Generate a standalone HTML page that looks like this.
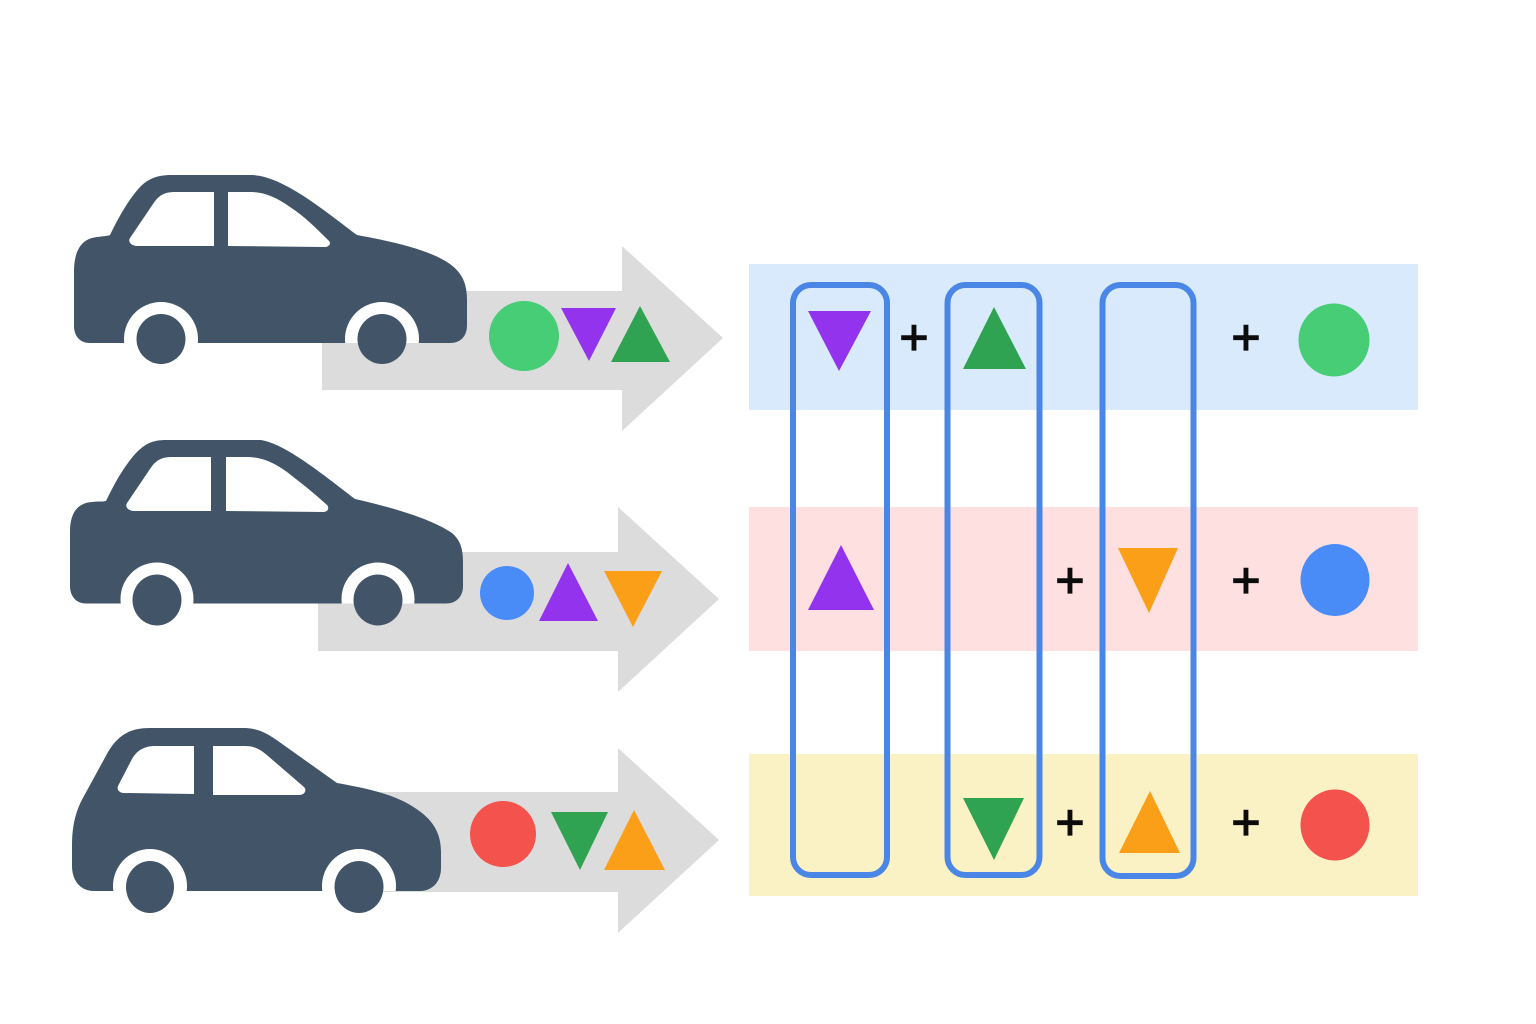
<!DOCTYPE html>
<html><head><meta charset="utf-8"><style>html,body{margin:0;padding:0;background:#fff}svg{display:block}</style></head>
<body>
<svg width="1536" height="1024" viewBox="0 0 1536 1024" xmlns="http://www.w3.org/2000/svg">
<defs>
<clipPath id="c1"><rect x="0" y="0" width="1536" height="343"/></clipPath>
<clipPath id="c2"><rect x="0" y="0" width="1536" height="603.500"/></clipPath>
<clipPath id="c3"><rect x="0" y="0" width="1536" height="891"/></clipPath>
</defs>
<rect width="1536" height="1024" fill="#fff"/>
<!-- bands -->
<rect x="749" y="264" width="669" height="146" fill="#d9eafc"/>
<rect x="749" y="507" width="669" height="144" fill="#fde0df"/>
<rect x="749" y="754" width="669" height="142" fill="#faf1c4"/>
<!-- arrows -->
<polygon fill="#dcdcdc" points="322,291 622,291 622,246 723,338 622,431 622,390 322,390"/>
<polygon fill="#dcdcdc" points="318,552 618,552 618,507 719,599 618,692 618,651 318,651"/>
<polygon fill="#dcdcdc" points="380,792 618,792 618,748 719,840 618,933 618,892 380,892"/>
<!-- car 1 -->
<path fill="#425568" d="M110,235 C120,214 130,198 140,187 C149,178 158,175 172,175 L253,175 C283,177 320,207 357,235 C395,242 430,250 450,264 C462,273 467,283 467,300 L467,325 C467,337 460,343 450,343 L90,343 C79,343 74,335 74,326 L74,272 C74,247 84,238 98,237 C104,236 108,236 110,235 Z"/>
<g clip-path="url(#c1)"><circle cx="161" cy="339" r="37" fill="#fff"/><circle cx="382" cy="339" r="37" fill="#fff"/></g>
<ellipse cx="161" cy="339" rx="24.500" ry="25" fill="#425568"/>
<ellipse cx="382" cy="339" rx="24.500" ry="25" fill="#425568"/>
<path fill="#fff" d="M214,192 L214,246 L136,246 C130,245 128,241 130,238 L153,204 C158,196 164,192 174,192 Z"/>
<path fill="#fff" d="M228,192 L228,246 L324,247 C330,247 331,243 329,241 C316,228 304,216 290,207 C276,197 264,192 250,192 Z"/>
<!-- car 2 -->
<path fill="#425568" d="M106,501 C116,480 126,464 136,453 C145,444 152,440 166,440 L261,440 C285,444 320,472 355,499 C390,507 430,518 452,533 C460,540 463,548 463,562 L463,586 C463,597 456,603.500 446,603.500 L86,603.500 C76,603.500 70,596 70,586 L70,532 C70,512 78,503 92,502 C98,501 102,502 106,501 Z"/>
<g clip-path="url(#c2)"><circle cx="157" cy="599" r="36.500" fill="#fff"/><circle cx="378" cy="599" r="36.500" fill="#fff"/></g>
<ellipse cx="157" cy="600" rx="24.500" ry="25.500" fill="#425568"/>
<ellipse cx="378" cy="600" rx="24.500" ry="25.500" fill="#425568"/>
<path fill="#fff" d="M211,457 L211,511 L133,511 C127,510 125,506 127,503 L150,469 C155,461 161,457 171,457 Z"/>
<path fill="#fff" d="M226,457 L226,511 L323,512 C329,512 329,507 327,505 C314,493 300,482 287,472 C273,462 261,457 247,457 Z"/>
<!-- car 3 -->
<path fill="#425568" d="M84,796 L108,752 C118,735 130,728 150,728 L246,728 C260,729 268,734 278,741 L337,783 C365,788 395,794 415,808 C432,819 441,832 441,852 L441,868 C441,882 432,891 420,891 L94,891 C80,891 72,880 72,866 L72,845 C72,825 76,810 84,796 Z"/>
<g clip-path="url(#c3)"><circle cx="150" cy="886" r="37" fill="#fff"/><circle cx="359" cy="886" r="37" fill="#fff"/></g>
<ellipse cx="150" cy="887" rx="24" ry="26" fill="#425568"/>
<ellipse cx="359" cy="887" rx="24.500" ry="26" fill="#425568"/>
<path fill="#fff" d="M194,746 L194,794 L123,793 C118,792 117,789 118,786 L132,759 C137,750 145,746 155,746 Z"/>
<path fill="#fff" d="M213,746 L213,795 L299,795 C305,795 307,790 304,787 L268,756 C260,749 254,746 245,746 Z"/>
<!-- arrow payload -->
<circle cx="524" cy="336" r="35" fill="#46cd75"/>
<polygon fill="#9333ee" points="561,308 616,308 589,361"/>
<polygon fill="#2fa352" points="640,306 670,362 611,362"/>
<circle cx="507" cy="593" r="27" fill="#4a8cf7"/>
<polygon fill="#9333ee" points="568,563 598,621 539,621"/>
<polygon fill="#fb9e18" points="604,571 662,571 633,627"/>
<circle cx="503" cy="834" r="33" fill="#f4524d"/>
<polygon fill="#2fa352" points="551,812 608,812 580,870"/>
<polygon fill="#fb9e18" points="634,810 665,870 604,870"/>
<!-- column frames -->
<g fill="none" stroke="#4a86e6" stroke-width="6">
<rect x="793" y="285" width="94" height="590" rx="18"/>
<rect x="947.500" y="285" width="92" height="590" rx="18"/>
<rect x="1102.500" y="285" width="91" height="591" rx="18"/>
</g>
<!-- band shapes -->
<polygon fill="#9333ee" points="808,311 871,311 839,371"/>
<polygon fill="#2fa352" points="994,307 1026,369 963,369"/>
<ellipse cx="1334" cy="340" rx="35.500" ry="36.500" fill="#46cd75"/>
<polygon fill="#9333ee" points="841,545 874,610 808,610"/>
<polygon fill="#fb9e18" points="1118,548 1178,548 1149,613"/>
<ellipse cx="1335" cy="580" rx="34.500" ry="36" fill="#4a8cf7"/>
<polygon fill="#2fa352" points="963,798 1024,798 994,860"/>
<polygon fill="#fb9e18" points="1150,791 1180,853 1119,853"/>
<ellipse cx="1335" cy="825" rx="34.500" ry="35.500" fill="#f4524d"/>
<!-- plus signs -->
<g font-family="'Liberation Sans',sans-serif" font-size="50" fill="#0c0c0c" stroke="#0c0c0c" stroke-width="1.300" text-anchor="middle">
<text x="914" y="354.600">+</text>
<text x="1246" y="354.600">+</text>
<text x="1070" y="597.600">+</text>
<text x="1246" y="597.600">+</text>
<text x="1070" y="839.600">+</text>
<text x="1246" y="839.600">+</text>
</g>
</svg>
</body></html>
